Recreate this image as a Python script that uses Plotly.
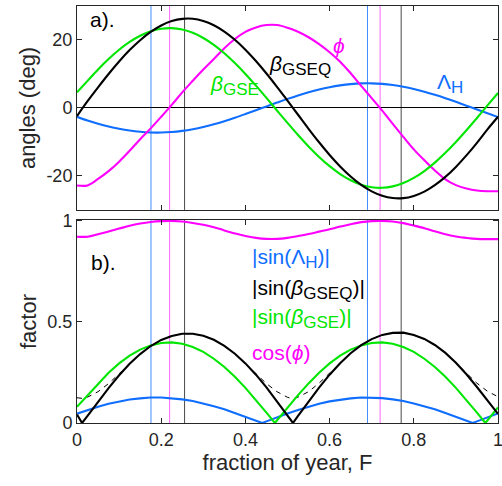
import numpy as np
import plotly.graph_objects as go
from plotly.subplots import make_subplots

# fraction of year, sampled every 0.025
F = list(np.round(np.linspace(0, 1, 41), 3))

# panel a: angles (deg)
beta_gseq = [-2.4, 1.98, 6.06, 9.99, 13.67, 17.02, 19.94, 22.38, 24.27, 25.55,
             26.21, 26.23, 25.59, 24.33, 22.47, 20.05, 17.14, 13.81, 10.14, 6.22,
             2.15, -2.0, -6.13, -10.1, -13.83, -17.21, -20.17, -22.64, -24.54, -25.84,
             -26.51, -26.53, -25.88, -24.61, -22.72, -20.28, -17.34, -13.97, -10.26, -6.29,
             -2.6]
beta_gse = [4.6, 7.96, 11.32, 14.4, 17.13, 19.44, 21.26, 22.57, 23.31, 23.49,
            23.08, 22.11, 20.59, 18.57, 16.09, 13.21, 10.01, 6.56, 2.95, -0.74,
            -4.4, -7.96, -11.32, -14.4, -17.13, -19.44, -21.26, -22.57, -23.31, -23.49,
            -23.08, -22.11, -20.59, -18.57, -16.09, -13.21, -10.01, -6.56, -2.95, 0.74,
            4.4]
lambda_h = [-2.6, -3.69, -4.62, -5.44, -6.12, -6.65, -7.02, -7.22, -7.24, -7.08,
            -6.74, -6.24, -5.59, -4.79, -3.88, -2.88, -1.8, -0.68, 0.46, 1.58,
            2.67, 3.69, 4.62, 5.44, 6.12, 6.65, 7.02, 7.22, 7.24, 7.08,
            6.74, 6.24, 5.59, 4.79, 3.88, 2.88, 1.8, 0.68, -0.46, -1.58,
            -2.67]
phi = [-22.8, -22.8, -20.9, -18.6, -15.8, -12.6, -9.2, -6.0, -2.6, 0.9,
       4.6, 8.0, 11.3, 14.4, 17.6, 20.3, 22.4, 23.7, 24.4, 24.4,
       23.6, 22.4, 20.8, 18.8, 16.4, 13.6, 10.2, 6.5, 2.9, -0.8,
       -4.7, -8.5, -12.2, -15.4, -18.4, -21.0, -22.7, -23.7, -24.3, -24.5,
       -24.5]

# panel b: factors
sin_lambda_h = [0.046, 0.064, 0.081, 0.095, 0.107, 0.116, 0.122, 0.126, 0.126, 0.123,
                0.117, 0.109, 0.097, 0.083, 0.068, 0.05, 0.031, 0.012, 0.008, 0.028,
                0.047, 0.064, 0.081, 0.095, 0.107, 0.116, 0.122, 0.126, 0.126, 0.123,
                0.117, 0.109, 0.097, 0.083, 0.068, 0.05, 0.031, 0.012, 0.008, 0.028,
                0.047]
sin_beta_gseq = [0.042, 0.035, 0.106, 0.173, 0.236, 0.293, 0.341, 0.381, 0.411, 0.431,
                 0.442, 0.442, 0.432, 0.412, 0.382, 0.343, 0.295, 0.239, 0.176, 0.108,
                 0.038, 0.035, 0.107, 0.175, 0.239, 0.296, 0.345, 0.385, 0.415, 0.436,
                 0.446, 0.447, 0.436, 0.416, 0.386, 0.347, 0.298, 0.241, 0.178, 0.11,
                 0.045]
sin_beta_gse = [0.08, 0.138, 0.196, 0.249, 0.295, 0.333, 0.363, 0.384, 0.396, 0.399,
                0.392, 0.376, 0.352, 0.318, 0.277, 0.229, 0.174, 0.114, 0.051, 0.013,
                0.077, 0.138, 0.196, 0.249, 0.295, 0.333, 0.363, 0.384, 0.396, 0.399,
                0.392, 0.376, 0.352, 0.318, 0.277, 0.229, 0.174, 0.114, 0.051, 0.013,
                0.077]
cos_phi = [0.922, 0.922, 0.934, 0.948, 0.962, 0.976, 0.987, 0.995, 0.999, 1.0,
           0.997, 0.99, 0.981, 0.969, 0.953, 0.938, 0.925, 0.916, 0.911, 0.911,
           0.916, 0.925, 0.935, 0.947, 0.959, 0.972, 0.984, 0.994, 0.999, 1.0,
           0.997, 0.989, 0.977, 0.964, 0.949, 0.934, 0.923, 0.916, 0.911, 0.91,
           0.91]
# thin dashed curve (mostly hidden under the black one)
dashed_factor = [0.125, 0.128, 0.155, 0.195, 0.245, 0.293, 0.341, 0.381, 0.411, 0.431,
                 0.442, 0.442, 0.432, 0.412, 0.382, 0.343, 0.295, 0.245, 0.195, 0.155,
                 0.127, 0.128, 0.155, 0.197, 0.247, 0.296, 0.345, 0.385, 0.415, 0.436,
                 0.446, 0.447, 0.436, 0.416, 0.386, 0.347, 0.298, 0.247, 0.197, 0.157,
                 0.13]

# where the |sin| curves touch zero
zeros_lambda_h = [0.44, 0.94]
zeros_beta_gseq = [0.012, 0.513]
zeros_beta_gse = [0.47, 0.97]
dashed_min = [(0.012, 0.122), (0.513, 0.12)]

# vertical marker lines
vlines_lambda_h = [0.1757, 0.690]
vlines_phi = [0.220, 0.720]
vlines_beta_gseq = [0.2555, 0.770]

BLUE = "#0f6eff"
GREEN = "#00e600"
MAGENTA = "#ff00ff"
BLACK = "#000000"
AXIS = "#262626"
FONT = "Liberation Sans, Arial, sans-serif"
LW = 2.1


def add_points(vals, extra):
    pts = sorted(list(zip(F, vals)) + list(extra))
    return [p[0] for p in pts], [p[1] for p in pts]


fig = make_subplots(rows=2, cols=1, shared_xaxes=True)

# panel a
for ys, col in ((lambda_h, BLUE), (phi, MAGENTA), (beta_gse, GREEN), (beta_gseq, BLACK)):
    fig.add_trace(go.Scatter(x=F, y=ys, mode="lines", line=dict(color=col, width=LW),
                             line_shape="spline", showlegend=False), row=1, col=1)

# panel b
dx, dy = add_points(dashed_factor, dashed_min)
fig.add_trace(go.Scatter(x=dx, y=dy, mode="lines",
                         line=dict(color=BLACK, width=1, dash="5px,5px"),
                         showlegend=False), row=2, col=1)
for ys, zs, col in ((sin_lambda_h, zeros_lambda_h, BLUE),
                    (sin_beta_gse, zeros_beta_gse, GREEN),
                    (sin_beta_gseq, zeros_beta_gseq, BLACK)):
    bx, by = add_points(ys, [(z, 0.0) for z in zs])
    fig.add_trace(go.Scatter(x=bx, y=by, mode="lines", line=dict(color=col, width=LW),
                             showlegend=False), row=2, col=1)
fig.add_trace(go.Scatter(x=F, y=cos_phi, mode="lines", line=dict(color=MAGENTA, width=LW),
                         line_shape="spline", showlegend=False), row=2, col=1)

# vertical marker lines, kept under the curves
for row in (1, 2):
    for xs, col in ((vlines_lambda_h, "#3f8cff"), (vlines_phi, "#ff66ff"),
                    (vlines_beta_gseq, "#4a4a4a")):
        for xv in xs:
            fig.add_vline(x=xv, line=dict(color=col, width=1), layer="below",
                          row=row, col=1)

axis_common = dict(showline=True, linecolor=AXIS, linewidth=1, mirror="ticks",
                   ticks="inside", ticklen=5, tickcolor=AXIS, showgrid=False,
                   automargin=False, ticklabeloverflow="allow",
                   tickfont=dict(family=FONT, size=18, color=AXIS))

fig.update_xaxes(range=[0, 1], tickvals=[0, 0.2, 0.4, 0.6, 0.8, 1],
                 ticktext=["0", "0.2", "0.4", "0.6", "0.8", "1"], zeroline=False,
                 **axis_common)
fig.update_xaxes(showticklabels=False, row=1, col=1)
fig.update_xaxes(title=dict(text="fraction of year, F", standoff=4,
                            font=dict(family=FONT, size=22, color=AXIS)),
                 row=2, col=1)

fig.update_yaxes(range=[-30, 30], tickvals=[-20, 0, 20], ticktext=["-20", "0", "20"],
                 zeroline=True, zerolinecolor=BLACK, zerolinewidth=1,
                 title=dict(text="angles (deg)", standoff=4,
                            font=dict(family=FONT, size=22, color=AXIS)),
                 row=1, col=1, **axis_common)
fig.update_yaxes(range=[0, 1.005], tickvals=[0, 0.5, 1], ticktext=["0", "0.5", "1"],
                 zeroline=False,
                 title=dict(text="factor", standoff=4,
                            font=dict(family=FONT, size=22, color=AXIS)),
                 row=2, col=1, **axis_common)

fig.update_layout(
    width=502, height=486,
    margin=dict(l=77, r=4, t=6, b=63),
    plot_bgcolor="white", paper_bgcolor="white",
    font=dict(family=FONT, size=18, color=AXIS),
    xaxis=dict(domain=[0, 1]), xaxis2=dict(domain=[0, 1]),
    yaxis=dict(domain=[0.511, 1]), yaxis2=dict(domain=[0, 0.487]),
)

sub = "<sub><span style='font-size:17px'>%s</span></sub>"
labels = [
    ("x", "y", 0.027, 26.0, "a).", BLACK),
    ("x", "y", 0.452, 12.6, "<i>β</i>" + sub % "GSEQ", BLACK),
    ("x", "y", 0.604, 18.5, "<i>ϕ</i>", MAGENTA),
    ("x", "y", 0.851, 7.2, "Λ" + sub % "H", BLUE),
    ("x", "y", 0.312, 6.5, "<i>β</i>" + sub % "GSE", GREEN),
    ("x2", "y2", 0.029, 0.794, "b).", BLACK),
    ("x2", "y2", 0.411, 0.815, "|sin(Λ" + sub % "H" + ")|", BLUE),
    ("x2", "y2", 0.411, 0.662, "|sin(<i>β</i>" + sub % "GSEQ" + ")|", BLACK),
    ("x2", "y2", 0.411, 0.518, "|sin(<i>β</i>" + sub % "GSE" + ")|", GREEN),
    ("x2", "y2", 0.411, 0.348, "cos(<i>ϕ</i>)", MAGENTA),
]
for xr, yr, xv, yv, txt, col in labels:
    fig.add_annotation(xref=xr, yref=yr, x=xv, y=yv, text=txt, showarrow=False,
                       xanchor="left", yanchor="middle",
                       font=dict(family=FONT, size=21, color=col))

# page body has a default 8px margin; drop it so the figure fills the window
fig.write_html("out.html", config={"displayModeBar": False},
               post_script="document.body.style.margin='0';")
